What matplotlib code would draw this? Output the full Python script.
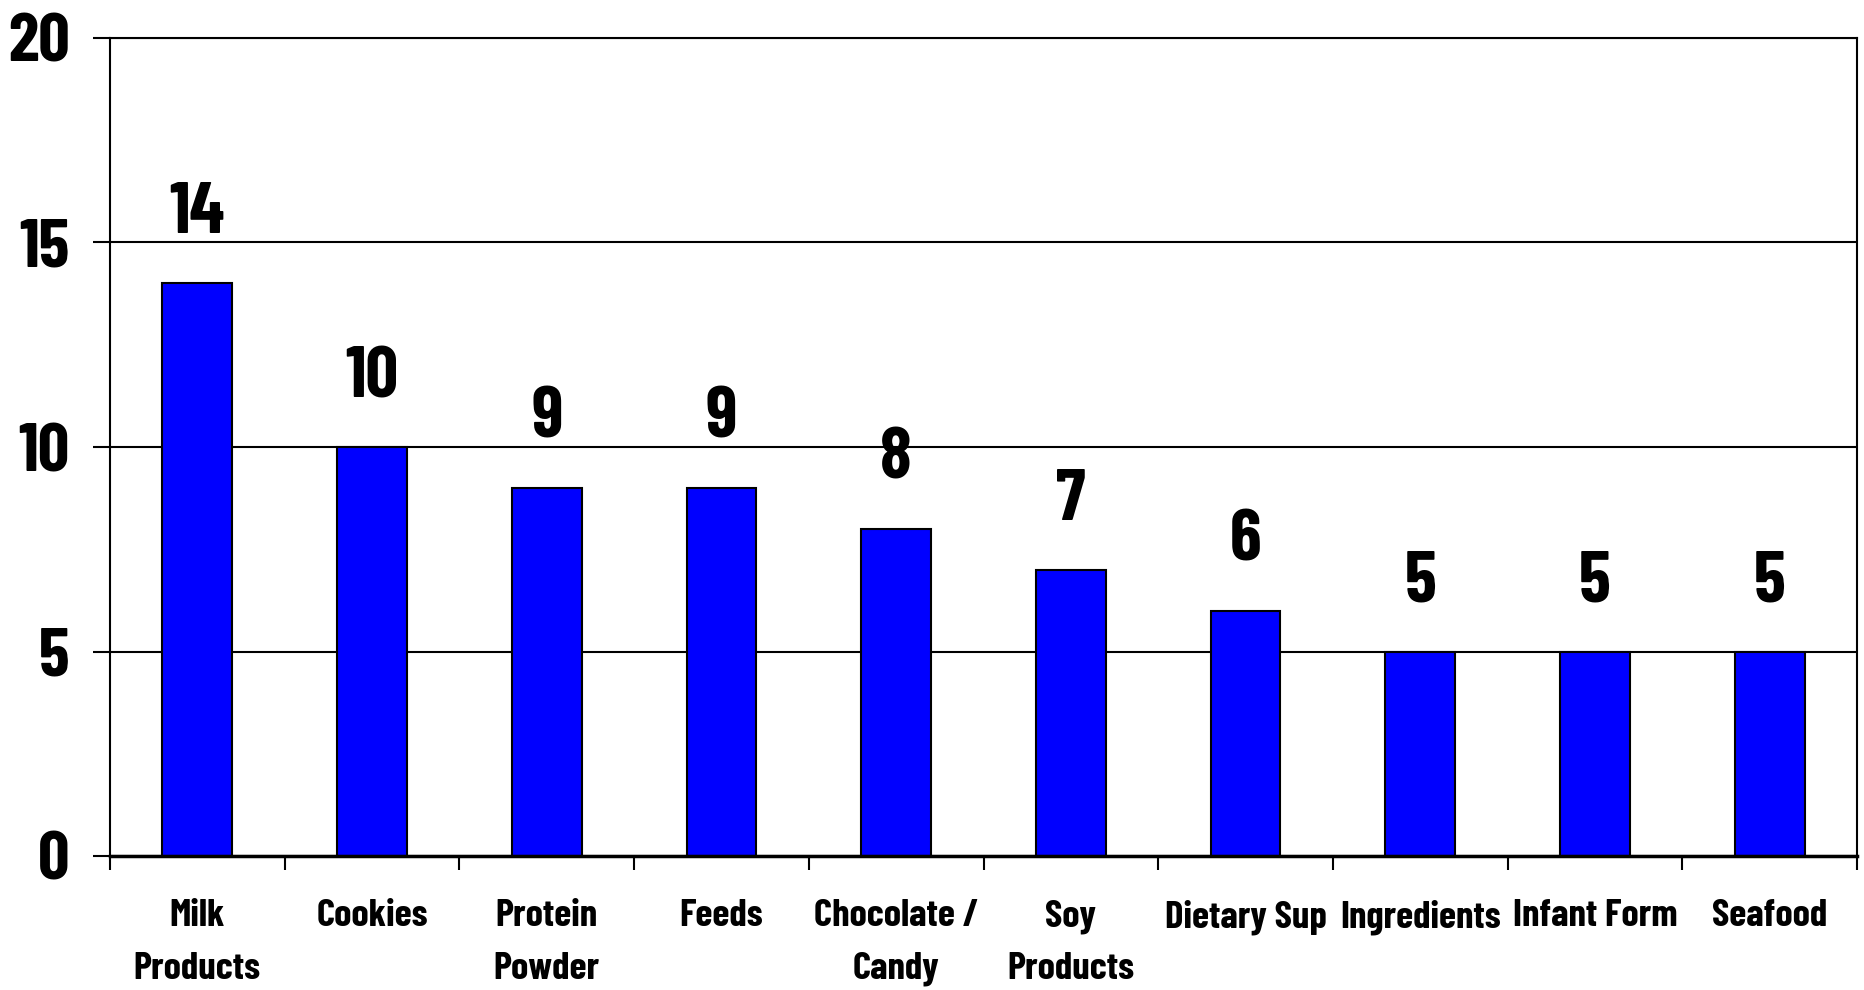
import matplotlib.pyplot as plt
import numpy as np

categories = ["Milk\nProducts", "Cookies", "Protein\nPowder", "Feeds", "Chocolate /\nCandy",
              "Soy\nProducts", "Dietary Sup", "Ingredients", "Infant Form", "Seafood"]
counts = [14, 10, 9, 9, 8, 7, 6, 5, 5, 5]
yticks = [0, 5, 10, 15, 20]

plt.rcParams['font.family'] = ['Barlow Condensed', 'Liberation Sans Narrow', 'DejaVu Sans']
plt.rcParams['font.weight'] = 'bold'

fig = plt.figure(figsize=(18.64, 9.9), dpi=100)
ax = fig.add_axes([110/1864, 1 - 856/990, (1857 - 110)/1864, (856 - 38)/990])

x = np.arange(len(categories))
ax.bar(x, counts, width=0.4, color='#0000ff', edgecolor='black', linewidth=1.5, zorder=3)

# value labels above bars
for xi, v in zip(x, counts):
    ax.annotate(str(v), (xi, v), xytext=(0, 36), textcoords='offset points',
                ha='center', va='baseline', fontsize=52, fontweight='bold')

ax.set_xlim(-0.5, len(categories) - 0.5)
ax.set_ylim(0, 20)
ax.set_yticks(yticks)
ax.set_yticklabels([str(t) for t in yticks], fontsize=50, fontweight='bold')
ax.set_xticks(x)
ax.set_xticklabels(categories, fontsize=28, fontweight='bold', linespacing=1.7)
ax.set_xticks(np.arange(len(categories) + 1) - 0.5, minor=True)

ax.tick_params(axis='x', which='major', length=0, pad=31)
ax.tick_params(axis='x', which='minor', length=10, width=1.5, direction='out')
ax.tick_params(axis='y', length=12, width=1.5, direction='out', pad=17)

ax.grid(axis='y', color='black', linewidth=1.5, zorder=1)
for s in ['left', 'right', 'top']:
    ax.spines[s].set_linewidth(1.5)
ax.spines['bottom'].set_linewidth(2.5)
ax.spines['bottom'].set_zorder(4)

plt.savefig('out.png', dpi=100)
